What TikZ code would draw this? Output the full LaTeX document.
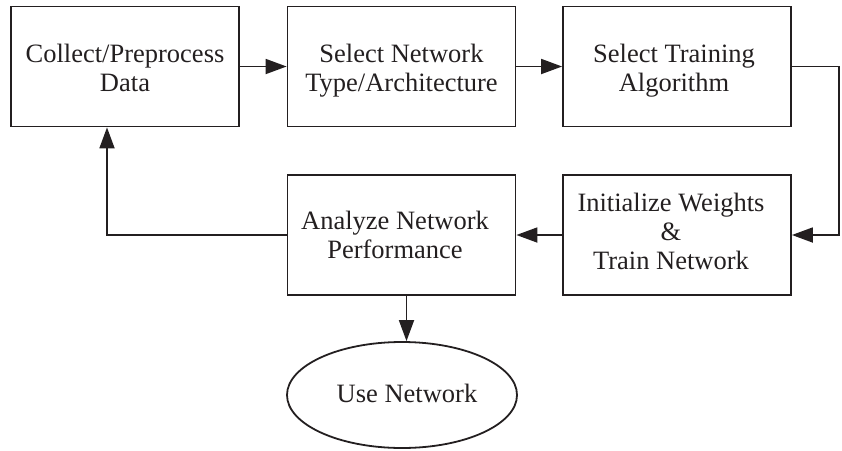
\documentclass[tikz,border=0pt]{standalone}
\usepackage{fontspec}
\setmainfont{Liberation Serif}
\usetikzlibrary{shapes.geometric,arrows.meta}
\definecolor{ink}{HTML}{231F20}
\begin{document}
\begin{tikzpicture}[x=1pt,y=-1pt,
  txt/.style={font=\fontsize{26.5}{29}\selectfont, text=ink, align=center, inner sep=0pt},
  box/.style={draw=ink, line width=1.8pt, minimum width=228pt, minimum height=120pt, inner sep=0pt},
  oval/.style={ellipse, draw=ink, line width=1.8pt, minimum width=230pt, minimum height=106pt, inner sep=0pt},
  arr/.style={draw=ink, line width=1.8pt, -{Triangle[length=21pt,width=15pt]}}]
\useasboundingbox (0,0) rectangle (842,450);
% shapes
\node[box] (b1) at (125,66.5) {};
\node[box] (b2) at (401.5,66.5) {};
\node[box] (b3) at (677,66.5) {};
\node[box] (b4) at (677,235) {};
\node[box] (b5) at (401.5,235) {};
\node[oval] (ell) at (402,395) {};
% texts
\node[txt] (t1) at (125,70.7) {\strut Collect/Preprocess\\\strut Data};
\node[txt] (t2) at (401.5,70.7) {\strut Select Network\\\strut Type/Architecture};
\node[txt] (t3) at (674,70.7) {\strut Select Training\\\strut Algorithm};
\node[txt] (t4) at (671,234.5) {\strut Initialize Weights\\\strut\&\\\strut Train Network};
\node[txt] (t5) at (395,237.7) {\strut Analyze Network\\\strut Performance};
\node[txt] (t6) at (407,396.2) {\strut Use Network};
% connectors
\coordinate (fbx) at (107,0);
\coordinate (rx) at (839,0);
\draw[arr] (b1) -- (b2);
\draw[arr] (b2) -- (b3);
\draw[arr] (b3.east) -| (rx |- b4.east) -- (b4.east);
\draw[arr] (b4) -- (b5);
\draw[arr] (b5.west) -| (fbx |- b1.south);
\draw[arr] ([xshift=5pt]b5.south) -- ([xshift=5pt]b5.south |- ell.north);
\end{tikzpicture}
\end{document}
